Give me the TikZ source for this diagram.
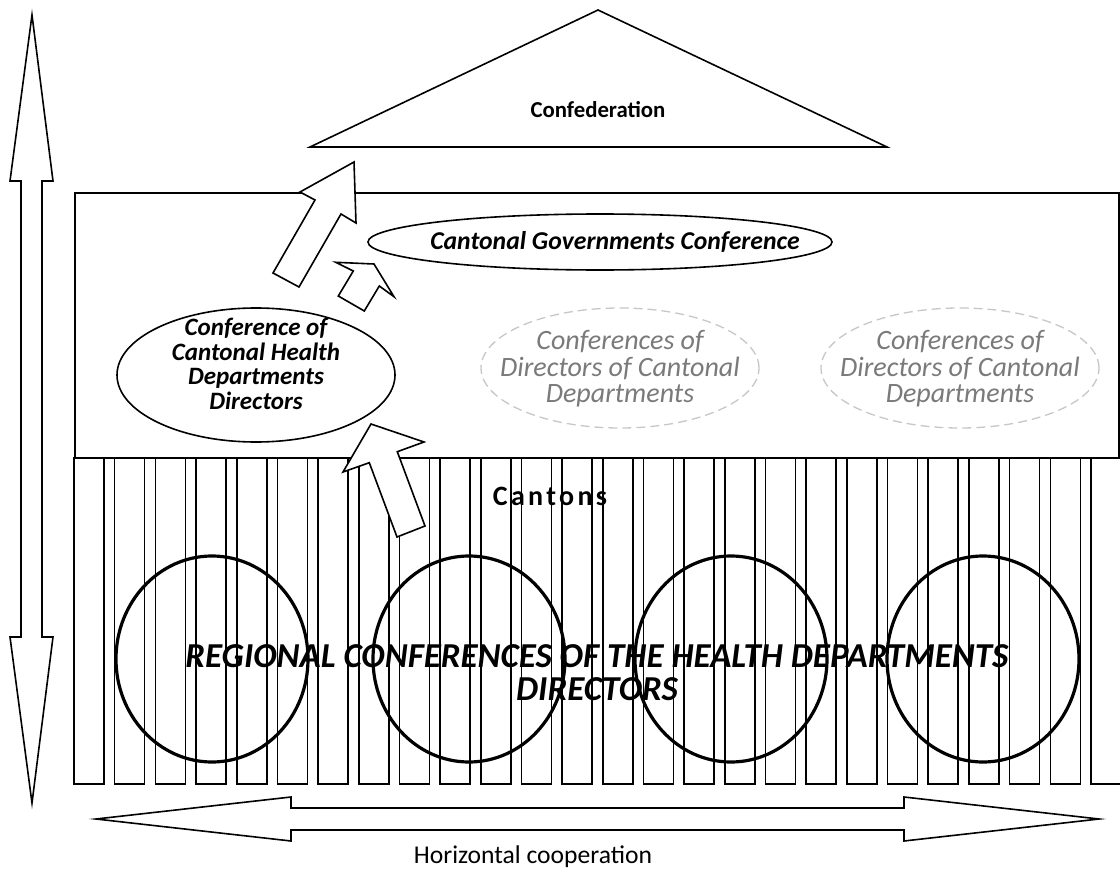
\documentclass[tikz,border=0pt]{standalone}
\usepackage{fontspec}
\setmainfont{Carlito}
\usetikzlibrary{shapes.geometric}
\begin{document}
\begin{tikzpicture}[x=1pt,y=-1pt, line join=miter,
  ln/.style={draw=black, line width=1.6pt},
  pillar/.style={draw=black, line width=1.6pt, fill=white},
  blockarrow/.style={draw=black, line width=1.6pt, fill=white},
  ring/.style={draw=black, line width=3.2pt},
  confell/.style={ellipse, draw=black, line width=1.6pt, fill=white, inner sep=0pt},
  grayell/.style={ellipse, draw=black!22, dash pattern=on 9pt off 5pt, line width=1.3pt, inner sep=0pt},
  graytxt/.style={text=black!52, align=center, font=\fontsize{28}{26.5}\selectfont\itshape},
  bitxt/.style={align=center, font=\fontsize{25}{24.5}\selectfont\bfseries\itshape}
]
\useasboundingbox (0,0) rectangle (1120,875);
% cantonal level box
\draw[ln, fill=white] (75,193) rectangle (1119,458);
% pillars
\foreach \i in {0,...,25}
  \draw[pillar] ({74+40.68*\i},458) rectangle ++(30,326);
% regional circles
\foreach \cx in {212,469,731,983}
  \draw[ring] (\cx,659) ellipse [x radius=96pt, y radius=103pt];
\node[font=\fontsize{28}{30}\selectfont\bfseries\addfontfeature{LetterSpace=12}] (cantons) at (550,496) {Cantons};
\node[align=center, font=\fontsize{35}{33}\selectfont\bfseries\itshape] (regional) at (597,673)
  {REGIONAL CONFERENCES OF THE HEALTH DEPARTMENTS\\DIRECTORS};
% confederation
\draw[ln, fill=white] (598,10) -- (887,147) -- (310,147) -- cycle;
\node[font=\fontsize{22.8}{26}\selectfont\bfseries] (conf) at (598,110) {Confederation};
% conferences
\node[confell, minimum width=464pt, minimum height=56pt] (cgc) at (600,242) {};
\node[font=\fontsize{25.7}{28}\selectfont\bfseries\itshape] (cgctxt) at (615,242) {Cantonal Governments Conference};
\node[confell, minimum width=278pt, minimum height=134pt] (health) at (256,375) {};
\node[bitxt] (healthtxt) at (256,364) {Conference of\\Cantonal Health\\Departments\\Directors};
\node[grayell, minimum width=278pt, minimum height=120pt] (gray1) at (620,368) {};
\node[graytxt] (gray1txt) at (620,369) {Conferences of\\Directors of Cantonal\\Departments};
\node[grayell, minimum width=278pt, minimum height=120pt] (gray2) at (960,368) {};
\node[graytxt] (gray2txt) at (960,369) {Conferences of\\Directors of Cantonal\\Departments};
% block arrows
\draw[blockarrow] (354,162) -- (356,223) -- (341,214) -- (299,287) -- (273,273) -- (315,200) -- (300,192) -- cycle;
\draw[blockarrow] (374,264) -- (394,296.7) -- (379.3,286) -- (364.3,311) -- (338.3,296) -- (353.3,271) -- (335.7,262.3) -- cycle;
\draw[blockarrow] (371,424) -- (424,442) -- (397.3,451.7) -- (425,526) -- (397,537) -- (369.3,462.7) -- (343,472) -- cycle;
% vertical cooperation arrow
\draw[blockarrow] (32,15) -- (53,181) -- (42,181) -- (42,637) -- (53,637) -- (32,803) -- (10,637) -- (21,637) -- (21,181) -- (10,181) -- cycle;
% horizontal cooperation arrow
\draw[blockarrow] (96,819) -- (291,797) -- (291,808) -- (904,808) -- (904,797) -- (1099,819) -- (904,841) -- (904,830) -- (291,830) -- (291,841) -- cycle;
\node[font=\fontsize{25.6}{28}\selectfont] (horiz) at (533,857) {Horizontal cooperation};
\end{tikzpicture}
\end{document}
